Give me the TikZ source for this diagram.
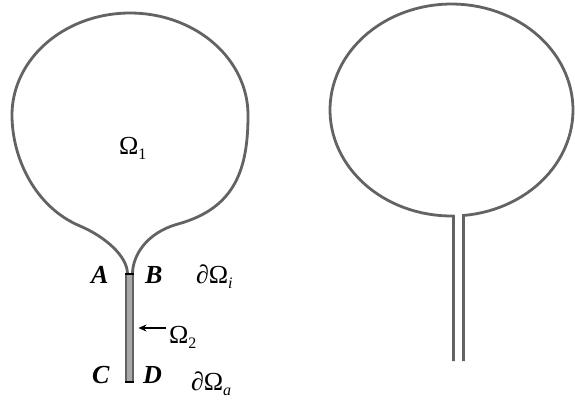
\documentclass[tikz,border=0pt]{standalone}
\usepackage{fontspec}
\setmainfont{Liberation Serif}
\usetikzlibrary{arrows.meta}
\definecolor{ol}{HTML}{636363}
\definecolor{stemfill}{HTML}{A8A8A8}
\newcommand\sbs[1]{\raisebox{-5pt}{\fontsize{16}{16}\selectfont #1}}
\begin{document}
\begin{tikzpicture}[x=1pt,y=-1pt,
  outl/.style={draw=ol,line width=2.8pt,line join=miter},
  lab/.style={inner sep=0pt,outer sep=0pt,anchor=base west,font=\fontsize{26}{26}\selectfont},
  bar/.style={draw=black,line width=2.2pt}]
\useasboundingbox (0,0) rectangle (575,405);
% left bulb
\coordinate (nl) at (127.5,274);
\coordinate (nr) at (132.5,274);
\draw[outl,line join=round] (nl) .. controls (127.5,256) and (104.75,236.5) .. (80,226)
  .. controls (35,207) and (12,158) .. (12,115)
  -- plot[domain=180:360,samples=90] ({130+118*cos(\x)},{115+102*sin(\x)})
  .. controls (248,168) and (236,208) .. (178,224)
  .. controls (146,232.8) and (132.5,256) .. (nr);
% stem
\node[draw=ol,fill=stemfill,line width=1.6pt,minimum width=7pt,minimum height=108pt,inner sep=0pt] (stem) at (129.5,328) {};
\coordinate (Ab) at (125,274);
\coordinate (Bb) at (134,274);
\coordinate (Cb) at (125,382);
\coordinate (Db) at (134,382);
\draw[bar] (Ab) -- (Bb);
\draw[bar] (Cb) -- (Db);
% labels
\node[lab] (o1) at (119,154) {Ω\sbs{1}};
\node[lab] (A) at (91,283) {\textbf{\textit{A}}};
\node[lab] (B) at (145,283) {\textbf{\textit{B}}};
\node[lab] (di) at (196,283) {∂Ω\sbs{\textit{i}}};
\node[lab] (o2) at (169,343) {Ω\sbs{2}};
\node[lab] (C) at (92,383) {\textbf{\textit{C}}};
\node[lab] (D) at (143,383) {\textbf{\textit{D}}};
\node[lab] (da) at (191,390) {∂Ω\sbs{\textit{a}}};
\coordinate (arrS) at (166,328);
\coordinate (arrE) at (138.5,328);
\draw[line width=1.1pt,-{Stealth[length=8pt,width=7pt]}] (arrS) -- (arrE);
% right figure
\coordinate (rl) at (453.5,361);
\coordinate (rr) at (463.5,361);
\draw[outl] (rl) -- (453.5,216) -- plot[domain=89.06:444.33,samples=120] ({451.5+121.5*cos(\x)},{110+106*sin(\x)}) -- (rr);
\end{tikzpicture}
\end{document}
